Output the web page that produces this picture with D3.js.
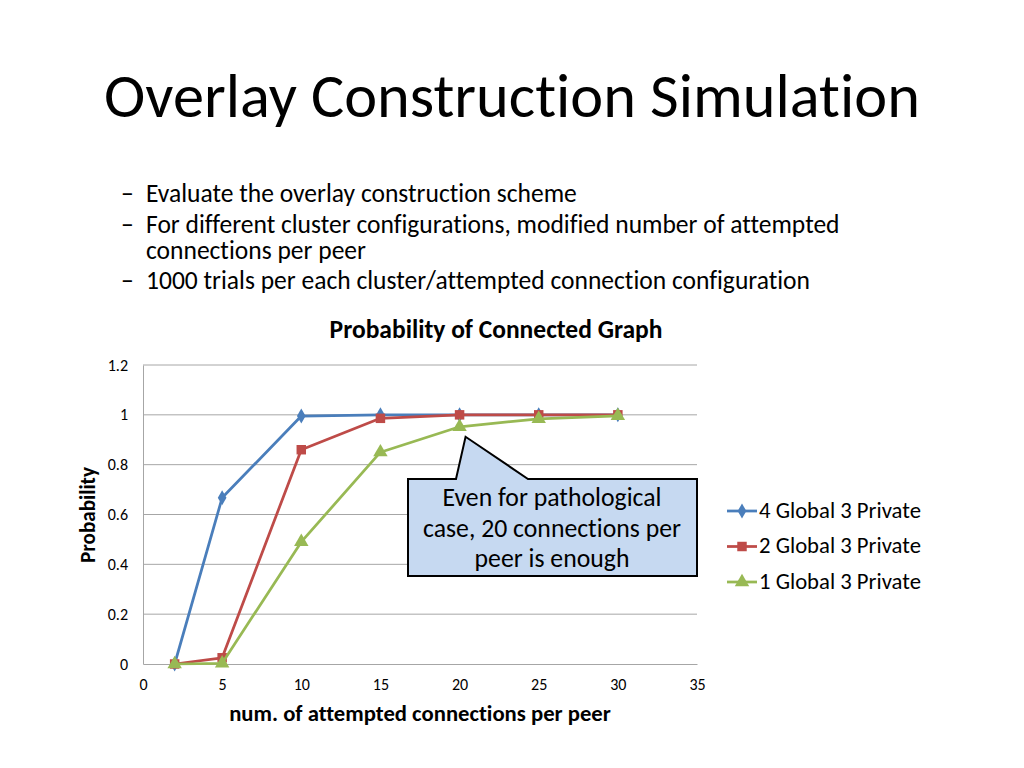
<!DOCTYPE html>
<html>
<head>
<meta charset="utf-8">
<script src="https://cdn.jsdelivr.net/npm/d3@7/dist/d3.min.js"></script>
<style>
body { margin: 0; background: #fff; }
svg { display: block; font-family: Carlito, Lato, 'Open Sans', sans-serif; font-variant-ligatures: none; }
</style>
</head>
<body>
<script>
var W = 1024, H = 768;
var FONT = 'Carlito, Lato, "Open Sans", sans-serif';

var slideTitle = 'Overlay Construction Simulation';
var bullets = [
  ['Evaluate the overlay construction scheme'],
  ['For different cluster configurations, modified number of attempted', 'connections per peer'],
  ['1000 trials per each cluster/attempted connection configuration']
];
var chartTitle = 'Probability of Connected Graph';
var xTitle = 'num. of attempted connections per peer';
var yTitle = 'Probability';
var calloutLines = ['Even for pathological', 'case, 20 connections per', 'peer is enough'];

var xValues = [2, 5, 10, 15, 20, 25, 30];
var seriesNames = ['4 Global 3 Private', '2 Global 3 Private', '1 Global 3 Private'];
var global4 = [0, 0.667, 0.995, 1.0, 1.0, 1.0, 1.0];
var global2 = [0, 0.025, 0.86, 0.986, 1.0, 1.0, 1.0];
var global1 = [0, 0.003, 0.49, 0.85, 0.952, 0.984, 0.996];
var xTicks = [0, 5, 10, 15, 20, 25, 30, 35];
var yTicks = [0, 0.2, 0.4, 0.6, 0.8, 1, 1.2];
var colors = ['#4a7ebb', '#be4b48', '#98b954'];
var shapes = [d3.symbolDiamond, d3.symbolSquare, d3.symbolTriangle];
var symSizes = [65, 90, 90];

var series = [global4, global2, global1].map(function (vals, i) {
  return { name: seriesNames[i], color: colors[i], shape: shapes[i], size: symSizes[i],
    values: vals.map(function (v, j) { return { x: xValues[j], y: v }; }) };
});

var svg = d3.select('body').append('svg').attr('width', W).attr('height', H);
svg.append('rect').attr('width', W).attr('height', H).attr('fill', '#fff');

// font size that makes a text element span the target width
function fitSize(t, target) {
  var w = t.node().getComputedTextLength();
  var fs = parseFloat(t.style('font-size'));
  return w > 0 ? fs * target / w : fs;
}

var tt = svg.append('text').attr('x', 512).attr('y', 117).attr('text-anchor', 'middle')
  .style('font-size', '54px').text(slideTitle);
tt.style('font-size', fitSize(tt, 816) + 'px');

// bullets: one text per bullet, wrapped lines as tspans
var probe = svg.append('text').style('font-size', '22px').text(bullets[1][0]);
var bfs = fitSize(probe, 694);
probe.remove();
var bulletY = [202, 233, 289];
var bg = svg.append('g').style('font-size', bfs + 'px');
bullets.forEach(function (b, i) {
  bg.append('text').attr('x', 121).attr('y', bulletY[i]).text('\u2013');
  var t = bg.append('text').attr('y', bulletY[i]);
  b.forEach(function (l, j) {
    t.append('tspan').attr('x', 146).attr('dy', j === 0 ? 0 : 26).text(l);
  });
});

// chart
var x = d3.scaleLinear().domain([0, 35]).range([143, 697]);
var y = d3.scaleLinear().domain([0, 1.2]).range([664, 365]);

var ct = svg.append('text').attr('x', 496).attr('y', 338).attr('text-anchor', 'middle')
  .style('font-size', '19px').style('font-weight', 'bold').text(chartTitle);
ct.style('font-size', fitSize(ct, 333) + 'px');

svg.append('g').selectAll('line').data(yTicks.slice(1)).enter().append('line')
  .attr('x1', x(0)).attr('x2', x(35)).attr('y1', function (d) { return y(d); }).attr('y2', function (d) { return y(d); })
  .attr('stroke', '#a6a6a6').attr('stroke-width', 1);

var yAxis = svg.append('g').attr('transform', 'translate(' + x(0) + ',0)')
  .call(d3.axisLeft(y).tickValues(yTicks).tickSize(0).tickPadding(15).tickFormat(d3.format('')));
yAxis.attr('font-size', null).attr('font-family', null);
yAxis.select('.domain').attr('stroke', '#a6a6a6');
yAxis.selectAll('text').style('font-size', '16px').style('font-family', FONT).attr('fill', '#000');

var xAxis = svg.append('g').attr('transform', 'translate(0,' + y(0) + ')')
  .call(d3.axisBottom(x).tickValues(xTicks).tickSize(0).tickPadding(15));
xAxis.attr('font-size', null).attr('font-family', null);
xAxis.select('.domain').attr('stroke', '#a6a6a6');
xAxis.selectAll('text').style('font-size', '16px').style('font-family', FONT).attr('fill', '#000');

var xt = svg.append('text').attr('x', 420).attr('y', 721).attr('text-anchor', 'middle')
  .style('font-size', '17px').style('font-weight', 'bold').text(xTitle);
xt.style('font-size', fitSize(xt, 382) + 'px');

var yt = svg.append('text').attr('transform', 'translate(95,515) rotate(-90)').attr('text-anchor', 'middle')
  .style('font-size', '17px').style('font-weight', 'bold').text(yTitle);
yt.style('font-size', fitSize(yt, 96) + 'px');

var line = d3.line().x(function (d) { return x(d.x); }).y(function (d) { return y(d.y); });
var sg = svg.append('g').selectAll('g').data(series).enter().append('g');
sg.append('path').attr('d', function (d) { return line(d.values); })
  .attr('fill', 'none').attr('stroke', function (d) { return d.color; }).attr('stroke-width', 2.75)
  .attr('stroke-linejoin', 'round');
sg.each(function (s) {
  d3.select(this).selectAll('path.mk').data(s.values).enter().append('path').attr('class', 'mk')
    .attr('transform', function (d) { return 'translate(' + x(d.x) + ',' + y(d.y) + ')'; })
    .attr('d', d3.symbol().type(s.shape).size(s.size)).attr('fill', s.color);
});

// callout
var cx0 = 408, cx1 = 697, cy0 = 479, cy1 = 576;
var tip = [x(20) + 6, y(0.952) + 10];
svg.append('path')
  .attr('d', 'M' + cx0 + ',' + cy0 + 'L456,' + cy0 + 'L' + tip[0] + ',' + tip[1] + 'L528,' + cy0 +
    'L' + cx1 + ',' + cy0 + 'L' + cx1 + ',' + cy1 + 'L' + cx0 + ',' + cy1 + 'Z')
  .attr('fill', '#c6d9f1').attr('stroke', '#000').attr('stroke-width', 2).attr('stroke-linejoin', 'miter');
var cTexts = calloutLines.map(function (l, i) {
  return svg.append('text').attr('x', 552).attr('y', 506 + i * 30.5).attr('text-anchor', 'middle')
    .style('font-size', '22px').text(l);
});
var cfs = fitSize(cTexts[1], 258);
cTexts.forEach(function (t) { t.style('font-size', cfs + 'px'); });

// legend
var lg = svg.append('g').selectAll('g').data(series).enter().append('g')
  .attr('transform', function (d, i) { return 'translate(727,' + (511 + i * 35.5) + ')'; });
lg.append('line').attr('x1', 0).attr('x2', 30).attr('stroke', function (d) { return d.color; }).attr('stroke-width', 2.75);
lg.append('path').attr('transform', 'translate(15,0)')
  .attr('d', function (d) { return d3.symbol().type(d.shape).size(d.size)(); })
  .attr('fill', function (d) { return d.color; });
var lTexts = lg.append('text').attr('x', 32).attr('y', 6.5).style('font-size', '18px').text(function (d) { return d.name; });
var lfs = fitSize(d3.select(lTexts.nodes()[0]), 162);
lTexts.style('font-size', lfs + 'px');
</script>
</body>
</html>
